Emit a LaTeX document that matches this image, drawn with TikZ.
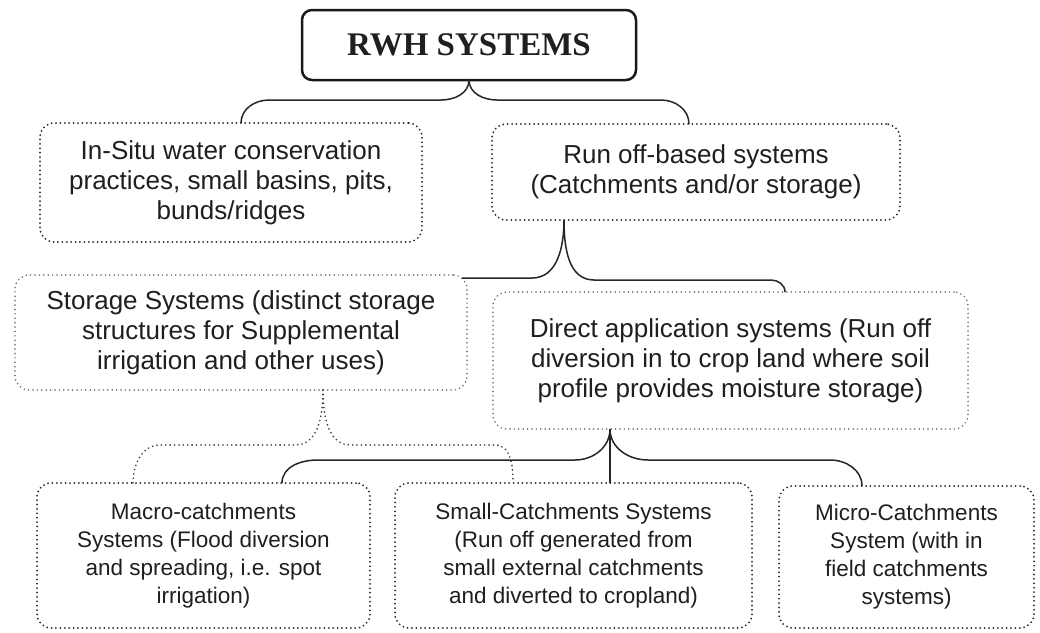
\documentclass[tikz,border=0pt]{standalone}
\usepackage{fontspec}
\setmainfont{Liberation Sans}
\newfontfamily\rwhfont{Liberation Serif}
\usetikzlibrary{calc}
\begin{document}
\begin{tikzpicture}[x=1pt,y=-1pt,
  box/.style={rectangle, rounded corners=14pt, draw=black!85, dash pattern=on 0pt off 4.4pt,
    line cap=round, line width=2pt, align=center, inner sep=0pt, outer sep=0pt,
    font=\fontsize{26}{30}\selectfont, text=black!88},
  lightbox/.style={box, draw=black!60, line width=1.7pt},
  smallbox/.style={box, font=\fontsize{22.5}{28}\selectfont},
  conn/.style={draw=black!85, line width=1.5pt},
  dotconn/.style={draw=black!80, line width=1.8pt, dash pattern=on 0pt off 4.4pt, line cap=round}]
\useasboundingbox[fill=white] (0,0) rectangle (1040,632);

\node[draw=black!90, line width=2.5pt, rounded corners=10pt, minimum width=334pt, minimum height=70pt,
  inner sep=0pt, outer sep=0pt, font=\rwhfont\fontsize{33}{40}\selectfont\bfseries, text=black!88]
  (rwh) at (469,45) {RWH SYSTEMS};

\node[box, minimum width=382pt, minimum height=119pt] (insitu) at (231,182.5)
  {In-Situ water conservation\\practices, small basins, pits,\\bunds/ridges};
\node[box, minimum width=408pt, minimum height=96pt] (runoff) at (696,172)
  {Run off-based systems\\(Catchments and/or storage)};
\node[lightbox, minimum width=452pt, minimum height=115pt] (storage) at (241,332.5)
  {Storage Systems (distinct storage\\structures for Supplemental\\irrigation and other uses)};
\node[lightbox, minimum width=475pt, minimum height=137pt] (direct) at (730.5,360.5)
  {Direct application systems (Run off\\diversion in to crop land where soil\\profile provides moisture storage)};
\node[smallbox, minimum width=333pt, minimum height=145pt] (macro) at (203.5,555.5)
  {Macro-catchments\\Systems (Flood diversion\\and spreading, i.e. spot\\irrigation)};
\node[smallbox, minimum width=357pt, minimum height=145pt] (small) at (573.5,555.5)
  {Small-Catchments Systems\\(Run off generated from\\small external catchments\\and diverted to cropland)};
\node[smallbox, minimum width=255pt, minimum height=142pt] (micro) at (906.5,557)
  {Micro-Catchments\\System (with in\\field catchments\\systems)};

% brace 1
\coordinate (e1l) at ($(insitu.north)+(10,0)$);
\coordinate (e1r) at ($(runoff.north)+(-7,0)$);
\draw[conn] (rwh.south) to[out=-90,in=0] ($(rwh.south)+(-28,20)$) -- ($(e1l)+(28,-23)$) to[out=180,in=90] (e1l);
\draw[conn] (rwh.south) to[out=-90,in=180] ($(rwh.south)+(28,20)$) -- ($(e1r)+(-28,-24)$) to[out=0,in=90] (e1r);

% brace 2
\coordinate (t2) at ($(runoff.south)+(-132,0)$);
\coordinate (e2l) at ($(storage.north east)+(-5,3)$);
\coordinate (e2r) at ($(direct.north)+(54.5,0)$);
\draw[conn] (t2) to[out=-90,in=0] ($(t2)+(-32,58)$) -- (e2l);
\draw[conn] (t2) to[out=-90,in=180] ($(t2)+(30,60)$) -- ($(e2r)+(-14,-12)$) to[out=0,in=90] (e2r);

% brace 3 (dotted)
\coordinate (t3) at ($(storage.south)+(82,0)$);
\coordinate (e3l) at ($(macro.north)+(-70.5,0)$);
\coordinate (e3r) at ($(small.north)+(-60.5,0)$);
\draw[dotconn] (t3) to[out=-90,in=0] ($(t3)+(-28,55)$) -- ($(e3l)+(27,-38)$) to[out=180,in=90] (e3l);
\draw[dotconn] (t3) to[out=-90,in=180] ($(t3)+(28,55)$) -- ($(e3r)+(-18,-38)$) to[out=0,in=90] (e3r);

% brace 4
\coordinate (t4) at ($(direct.south)+(-120.5,0)$);
\coordinate (e4l) at ($(macro.north)+(78.5,0)$);
\coordinate (e4m) at (t4 |- small.north);
\coordinate (e4r) at ($(micro.north)+(-44.5,0)$);
\draw[conn] (t4) to[out=-90,in=0] ($(t4)+(-35,31)$) -- ($(e4l)+(36,-23)$) to[out=180,in=90] (e4l);
\draw[conn] (t4) -- (e4m);
\draw[conn] (t4) to[out=-90,in=180] ($(t4)+(38,31)$) -- ($(e4r)+(-32,-26)$) to[out=0,in=90] (e4r);
\end{tikzpicture}
\end{document}
